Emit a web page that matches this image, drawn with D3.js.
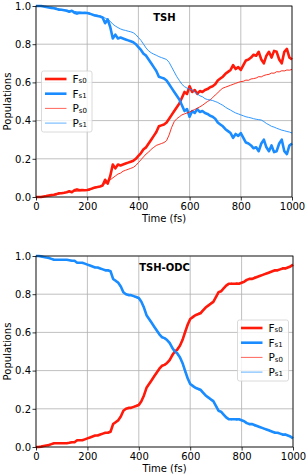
<!DOCTYPE html>
<html>
<head>
<meta charset="utf-8">
<script src="https://cdn.jsdelivr.net/npm/d3@7"></script>
<style>
  body { margin: 0; background: #fff; }
  text { font-family: "DejaVu Sans", sans-serif; }
</style>
</head>
<body>
<div id="chart"></div>
<script>
// sample times, every 10 fs
const times = d3.range(0, 1001, 10);
const xTicks = [0, 200, 400, 600, 800, 1000];
const yTicks = [0, 0.2, 0.4, 0.6, 0.8, 1.0];

// TSH panel
const tshFs0 = [
  0, 0, 0, 0.003, 0.005, 0.008, 0.01, 0.012, 0.015, 0.02,
  0.02, 0.022, 0.025, 0.03, 0.025, 0.035, 0.04, 0.035, 0.037, 0.035,
  0.037, 0.04, 0.045, 0.05, 0.052, 0.055, 0.06, 0.09, 0.07, 0.11,
  0.17, 0.15, 0.17, 0.165, 0.17, 0.175, 0.18, 0.185, 0.19, 0.20,
  0.215, 0.23, 0.25, 0.26, 0.28, 0.30, 0.32, 0.34, 0.37, 0.375,
  0.38, 0.39, 0.41, 0.43, 0.45, 0.47, 0.49, 0.52, 0.55, 0.54,
  0.58, 0.55, 0.56, 0.54, 0.555, 0.55, 0.56, 0.565, 0.575, 0.58,
  0.59, 0.61, 0.62, 0.63, 0.645, 0.655, 0.665, 0.69, 0.67, 0.68,
  0.665, 0.69, 0.715, 0.72, 0.73, 0.745, 0.74, 0.76, 0.72, 0.70,
  0.74, 0.76, 0.73, 0.765, 0.76, 0.72, 0.70, 0.76, 0.775, 0.73,
  0.72
];
const tshFs1 = [
  1, 1, 1, 0.997, 0.995, 0.992, 0.99, 0.988, 0.985, 0.98,
  0.98, 0.978, 0.975, 0.97, 0.975, 0.965, 0.96, 0.965, 0.963, 0.965,
  0.963, 0.96, 0.955, 0.95, 0.948, 0.945, 0.94, 0.91, 0.93, 0.89,
  0.83, 0.85, 0.83, 0.835, 0.83, 0.825, 0.82, 0.815, 0.81, 0.80,
  0.785, 0.77, 0.75, 0.74, 0.72, 0.70, 0.68, 0.66, 0.63, 0.625,
  0.62, 0.61, 0.59, 0.57, 0.55, 0.53, 0.51, 0.48, 0.45, 0.46,
  0.42, 0.45, 0.44, 0.46, 0.445, 0.45, 0.44, 0.435, 0.425, 0.42,
  0.41, 0.39, 0.38, 0.37, 0.355, 0.345, 0.335, 0.31, 0.33, 0.32,
  0.335, 0.31, 0.285, 0.28, 0.27, 0.255, 0.26, 0.24, 0.28, 0.30,
  0.26, 0.24, 0.27, 0.235, 0.24, 0.28, 0.30, 0.24, 0.225, 0.27,
  0.28
];
const tshPs0 = [
  0, 0, 0.001, 0.002, 0.004, 0.006, 0.008, 0.01, 0.012, 0.015,
  0.02, 0.022, 0.024, 0.026, 0.028, 0.03, 0.03, 0.032, 0.034, 0.034,
  0.035, 0.038, 0.042, 0.046, 0.05, 0.055, 0.063, 0.07, 0.08, 0.09,
  0.1, 0.11, 0.12, 0.125, 0.135, 0.14, 0.145, 0.15, 0.155, 0.165,
  0.18, 0.195, 0.21, 0.225, 0.235, 0.25, 0.26, 0.27, 0.275, 0.28,
  0.285, 0.295, 0.325, 0.365, 0.395, 0.41, 0.42, 0.43, 0.435, 0.44,
  0.445, 0.452, 0.458, 0.465, 0.472, 0.48, 0.49, 0.5, 0.508, 0.52,
  0.534, 0.545, 0.56, 0.57, 0.575, 0.58, 0.585, 0.59, 0.595, 0.6,
  0.604, 0.606, 0.612, 0.611, 0.618, 0.62, 0.623, 0.63, 0.629, 0.636,
  0.64, 0.642, 0.649, 0.648, 0.656, 0.655, 0.661, 0.66, 0.665, 0.664,
  0.668
];
const tshPs1 = [
  1, 1, 1, 0.999, 0.997, 0.995, 0.993, 0.99, 0.988, 0.985,
  0.982, 0.98, 0.978, 0.976, 0.975, 0.972, 0.97, 0.968, 0.967, 0.965,
  0.963, 0.96, 0.957, 0.955, 0.952, 0.948, 0.943, 0.937, 0.93, 0.92,
  0.905, 0.895, 0.887, 0.88, 0.875, 0.872, 0.868, 0.865, 0.86, 0.85,
  0.835, 0.82, 0.8, 0.78, 0.765, 0.755, 0.748, 0.742, 0.735, 0.73,
  0.725, 0.72, 0.705, 0.68, 0.655, 0.63, 0.61, 0.59, 0.578, 0.57,
  0.565, 0.56, 0.55, 0.54, 0.53, 0.525, 0.515, 0.51, 0.508, 0.505,
  0.5, 0.495, 0.487, 0.48, 0.47, 0.462, 0.455, 0.447, 0.44, 0.435,
  0.43, 0.425, 0.42, 0.417, 0.414, 0.41, 0.407, 0.405, 0.403, 0.395,
  0.385, 0.378, 0.37, 0.366, 0.36, 0.355, 0.35, 0.347, 0.343, 0.34,
  0.335
];

// TSH-ODC panel
const odcFs0 = [
  0, 0, 0.002, 0.005, 0.008, 0.01, 0.015, 0.02, 0.02, 0.02,
  0.02, 0.02, 0.02, 0.022, 0.025, 0.025, 0.035, 0.035, 0.035, 0.04,
  0.045, 0.05, 0.055, 0.06, 0.06, 0.065, 0.07, 0.075, 0.075, 0.08,
  0.12, 0.13, 0.14, 0.16, 0.19, 0.20, 0.205, 0.205, 0.21, 0.215,
  0.22, 0.24, 0.27, 0.31, 0.33, 0.35, 0.37, 0.39, 0.41, 0.425,
  0.43, 0.44, 0.455, 0.48, 0.50, 0.51, 0.53, 0.56, 0.60, 0.64,
  0.67, 0.68, 0.69, 0.695, 0.70, 0.715, 0.73, 0.74, 0.75, 0.76,
  0.785, 0.81, 0.815, 0.83, 0.845, 0.855, 0.855, 0.855, 0.855, 0.855,
  0.86, 0.865, 0.875, 0.88, 0.88, 0.885, 0.89, 0.895, 0.90, 0.905,
  0.91, 0.915, 0.92, 0.925, 0.925, 0.93, 0.935, 0.935, 0.94, 0.945,
  0.955
];
const odcFs1 = [
  1, 1, 0.998, 0.995, 0.992, 0.99, 0.985, 0.98, 0.98, 0.98,
  0.98, 0.98, 0.98, 0.978, 0.975, 0.975, 0.965, 0.965, 0.965, 0.96,
  0.955, 0.95, 0.945, 0.94, 0.94, 0.935, 0.93, 0.925, 0.925, 0.92,
  0.88, 0.87, 0.86, 0.84, 0.81, 0.80, 0.795, 0.795, 0.79, 0.785,
  0.78, 0.76, 0.73, 0.69, 0.67, 0.65, 0.63, 0.61, 0.59, 0.575,
  0.57, 0.56, 0.545, 0.52, 0.50, 0.49, 0.47, 0.44, 0.40, 0.36,
  0.33, 0.32, 0.31, 0.305, 0.30, 0.285, 0.27, 0.26, 0.25, 0.24,
  0.215, 0.19, 0.185, 0.17, 0.155, 0.145, 0.145, 0.145, 0.145, 0.145,
  0.14, 0.135, 0.125, 0.12, 0.12, 0.115, 0.11, 0.105, 0.10, 0.095,
  0.09, 0.085, 0.08, 0.075, 0.075, 0.07, 0.065, 0.065, 0.06, 0.055,
  0.045
];
const odcPs0 = [
  0, 0.001, 0.003, 0.005, 0.007, 0.01, 0.014, 0.018, 0.02, 0.021,
  0.021, 0.022, 0.022, 0.024, 0.026, 0.028, 0.033, 0.036, 0.037, 0.04,
  0.046, 0.05, 0.054, 0.058, 0.062, 0.066, 0.07, 0.073, 0.077, 0.085,
  0.115, 0.135, 0.135, 0.165, 0.185, 0.2, 0.2, 0.208, 0.212, 0.218,
  0.225, 0.24, 0.265, 0.305, 0.335, 0.35, 0.375, 0.385, 0.405, 0.42,
  0.43, 0.445, 0.46, 0.475, 0.495, 0.515, 0.535, 0.565, 0.61, 0.635,
  0.665, 0.685, 0.69, 0.7, 0.705, 0.72, 0.725, 0.745, 0.755, 0.765,
  0.78, 0.805, 0.82, 0.825, 0.845, 0.85, 0.858, 0.852, 0.86, 0.856,
  0.862, 0.868, 0.872, 0.882, 0.878, 0.89, 0.888, 0.898, 0.9, 0.908,
  0.912, 0.912, 0.922, 0.922, 0.928, 0.93, 0.938, 0.932, 0.942, 0.948,
  0.952
];
const odcPs1 = [
  1, 0.999, 0.997, 0.995, 0.993, 0.99, 0.986, 0.982, 0.98, 0.979,
  0.979, 0.978, 0.978, 0.976, 0.974, 0.972, 0.967, 0.964, 0.963, 0.96,
  0.954, 0.95, 0.946, 0.942, 0.938, 0.934, 0.93, 0.927, 0.923, 0.915,
  0.885, 0.865, 0.865, 0.835, 0.815, 0.8, 0.8, 0.792, 0.788, 0.782,
  0.775, 0.76, 0.735, 0.695, 0.665, 0.65, 0.625, 0.615, 0.595, 0.58,
  0.57, 0.555, 0.54, 0.525, 0.505, 0.485, 0.465, 0.435, 0.39, 0.365,
  0.335, 0.315, 0.31, 0.3, 0.295, 0.28, 0.275, 0.255, 0.245, 0.235,
  0.22, 0.195, 0.18, 0.175, 0.155, 0.15, 0.142, 0.148, 0.14, 0.144,
  0.138, 0.132, 0.128, 0.118, 0.122, 0.11, 0.112, 0.102, 0.1, 0.092,
  0.088, 0.088, 0.078, 0.078, 0.072, 0.07, 0.062, 0.068, 0.058, 0.052,
  0.048
];

const red = "#ff1a0a",
      blue = "#1a8cff";

const svg = d3.select("#chart")
    .append("svg")
    .attr("width", 308)
    .attr("height", 475);

const panels = [
  { title: "TSH", left: 36, right: 292, top: 6, bottom: 197,
    fs0: tshFs0, fs1: tshFs1, ps0: tshPs0, ps1: tshPs1,
    legend: { x: 41.5, y: 71, w: 50.5, first: 79 } },
  { title: "TSH-ODC", left: 36, right: 293, top: 256, bottom: 447,
    fs0: odcFs0, fs1: odcFs1, ps0: odcPs0, ps1: odcPs1,
    legend: { x: 237.5, y: 320, w: 51, first: 328 } }
];

panels.forEach(p => {
  const x = d3.scaleLinear().domain([0, 1000]).range([p.left, p.right]);
  const y = d3.scaleLinear().domain([0, 1]).range([p.bottom, p.top]);
  const g = svg.append("g");

  // grid
  g.selectAll(".gx").data(xTicks).enter().append("line")
      .attr("x1", d => x(d)).attr("x2", d => x(d))
      .attr("y1", p.top).attr("y2", p.bottom)
      .attr("stroke", "#b0b0b0").attr("stroke-width", 0.8);
  g.selectAll(".gy").data(yTicks).enter().append("line")
      .attr("x1", p.left).attr("x2", p.right)
      .attr("y1", d => y(d)).attr("y2", d => y(d))
      .attr("stroke", "#b0b0b0").attr("stroke-width", 0.8);

  const line = d3.line()
      .x((d, i) => x(times[i]))
      .y(d => y(d));

  // thick F lines, thin P lines
  const series = [
    { data: p.fs0, color: red, w: 2.6 },
    { data: p.fs1, color: blue, w: 2.6 },
    { data: p.ps0, color: red, w: 0.9 },
    { data: p.ps1, color: blue, w: 0.9 }
  ];
  series.forEach(s => {
    g.append("path")
        .attr("d", line(s.data))
        .attr("fill", "none")
        .attr("stroke", s.color)
        .attr("stroke-width", s.w)
        .attr("stroke-linejoin", "round");
  });

  // frame
  g.append("rect")
      .attr("x", p.left).attr("y", p.top)
      .attr("width", p.right - p.left).attr("height", p.bottom - p.top)
      .attr("fill", "none").attr("stroke", "#000").attr("stroke-width", 0.8);

  const xAxis = g.append("g")
      .attr("transform", `translate(0,${p.bottom})`)
      .call(d3.axisBottom(x).tickValues(xTicks).tickSize(3.5).tickPadding(2)
            .tickFormat(d3.format("d")));
  const yAxis = g.append("g")
      .attr("transform", `translate(${p.left},0)`)
      .call(d3.axisLeft(y).tickValues(yTicks).tickSize(3.5).tickPadding(1.5)
            .tickFormat(d3.format(".1f")));
  [xAxis, yAxis].forEach(a => {
    a.select(".domain").remove();
    a.selectAll("text").attr("font-size", 10)
        .attr("font-family", "DejaVu Sans").attr("fill", "#000");
    a.selectAll("line").attr("stroke", "#000").attr("stroke-width", 0.8);
  });

  g.append("text")
      .attr("x", (p.left + p.right) / 2).attr("y", p.bottom + 25)
      .attr("text-anchor", "middle").attr("font-size", 10)
      .text("Time (fs)");
  g.append("text")
      .attr("transform", `translate(10.5,${(p.top + p.bottom) / 2}) rotate(-90)`)
      .attr("text-anchor", "middle").attr("font-size", 10)
      .text("Populations");
  g.append("text")
      .attr("x", 164.5).attr("y", p.top + 14.5)
      .attr("text-anchor", "middle").attr("font-size", 10)
      .attr("font-weight", "bold")
      .text(p.title);

  // legend
  const L = p.legend;
  g.append("rect")
      .attr("x", L.x).attr("y", L.y)
      .attr("width", L.w).attr("height", 61)
      .attr("rx", 2)
      .attr("fill", "#fff").attr("fill-opacity", 0.8)
      .attr("stroke", "#d0d0d0").attr("stroke-width", 0.8);
  const labels = [["F", "s0"], ["F", "s1"], ["P", "s0"], ["P", "s1"]];
  series.forEach((s, i) => {
    const ly = L.first + i * 14.7;
    g.append("line")
        .attr("x1", L.x + 3.5).attr("x2", L.x + 25)
        .attr("y1", ly).attr("y2", ly)
        .attr("stroke", s.color).attr("stroke-width", s.w)
        .attr("stroke-opacity", i > 1 ? 0.75 : 1);
    const t = g.append("text")
        .attr("x", L.x + 31).attr("y", ly + 3.8)
        .attr("font-size", 10.5);
    t.append("tspan").text(labels[i][0]);
    t.append("tspan").attr("font-size", 7).attr("dy", 0.5).text(labels[i][1]);
  });
});
</script>
</body>
</html>
